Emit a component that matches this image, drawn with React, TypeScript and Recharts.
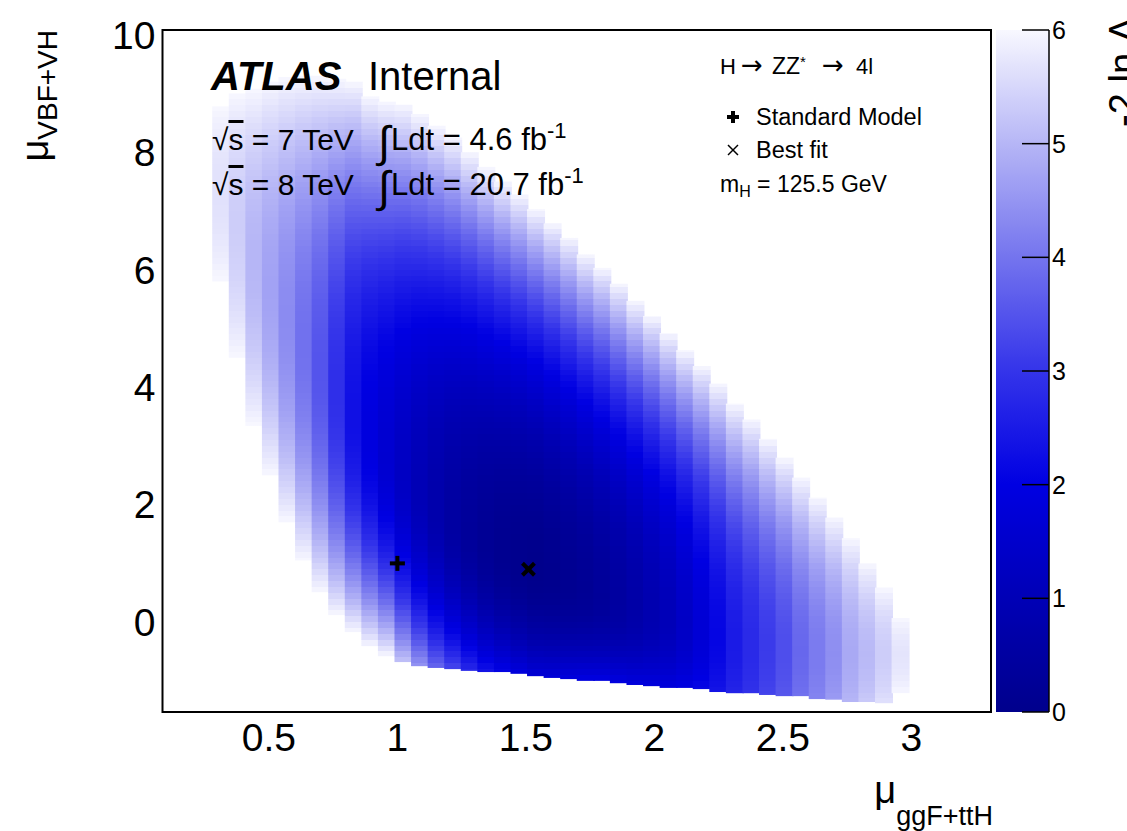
import { Bar, ComposedChart, ReferenceArea, Scatter, XAxis, YAxis } from "recharts"

const FONT = "'Liberation Sans', Arial, Helvetica, sans-serif"

// axis ranges (read from the frame) and ticks
const X_RANGE: [number, number] = [0.086, 3.31]
const Y_RANGE: [number, number] = [-1.53, 10.08]
const Z_RANGE: [number, number] = [0, 6]
const X_TICKS = [0.5, 1, 1.5, 2, 2.5, 3]
const Y_TICKS = [0, 2, 4, 6, 8, 10]
const Z_TICKS = [0, 1, 2, 3, 4, 5, 6]

// 50 bins in mu_ggF+ttH across X_RANGE, bins 3..44 are filled
const N_XBINS = 50
const FIRST_FILLED_BIN = 3
const Y_ROW = 0.1

// per filled column:
// top = where the column turns white (-2lnL = 6)
const COL_TOP = [
  8.78, 9.0, 9.08, 9.2, 9.28, 9.3, 9.3, 9.25, 9.2, 8.95, 8.86, 8.81, 8.65, 8.45,
  8.25, 8.0, 7.75, 7.5, 7.28, 7.03, 6.79, 6.54, 6.26, 6.03, 5.76, 5.47, 5.21,
  4.92, 4.63, 4.36, 4.06, 3.72, 3.45, 3.12, 2.8, 2.46, 2.12, 1.78, 1.43, 1.0,
  0.59, 0.07,
]
// bottom = lowest filled y (fade-out on the left, hard cut on the right)
const COL_BOTTOM = [
  5.8, 4.5, 3.34, 2.5, 1.7, 1.05, 0.51, 0.12, -0.17, -0.41, -0.58, -0.68, -0.75,
  -0.78, -0.8, -0.83, -0.85, -0.85, -0.88, -0.92, -0.95, -0.97, -1.0, -1.0,
  -1.04, -1.07, -1.09, -1.12, -1.12, -1.14, -1.19, -1.21, -1.21, -1.24, -1.26,
  -1.26, -1.31, -1.32, -1.36, -1.36, -1.38, -1.21,
]
// darkest value in the column and where it sits
const COL_MIN = [
  5.65, 5.35, 5.0, 4.7, 4.35, 3.95, 3.5, 2.9, 2.3, 1.9, 1.6, 1.3, 1.0, 0.75,
  0.52, 0.34, 0.2, 0.1, 0.04, 0.0, 0.05, 0.12, 0.2, 0.32, 0.48, 0.65, 0.85,
  1.05, 1.35, 1.7, 2.1, 2.5, 2.8, 3.1, 3.4, 3.8, 4.1, 4.4, 4.8, 5.05, 5.35, 5.7,
]
const COL_MIN_Y = [
  7.3, 6.8, 6.2, 5.7, 5.2, 4.75, 4.3, 3.9, 3.5, 3.15, 2.8, 2.5, 2.2, 1.95, 1.7,
  1.5, 1.3, 1.15, 1.0, 0.88, 0.76, 0.65, 0.55, 0.45, 0.36, 0.26, 0.15, 0.05,
  -0.05, -0.15, -0.25, -0.32, -0.38, -0.43, -0.47, -0.5, -0.52, -0.54, -0.55,
  -0.55, -0.55, -0.57,
]
// value in the lowest filled cell
const COL_BOTTOM_VALUE = [
  6, 6, 6, 6, 6, 6, 6, 6, 6, 6, 6, 5.2, 4.5, 3.8, 3.3, 2.8, 2.4, 2.1, 1.9, 1.75,
  1.8, 1.9, 2.0, 2.0, 1.95, 1.9, 1.9, 1.9, 2.0, 2.15, 2.4, 2.7, 2.95, 3.25, 3.55,
  3.95, 4.25, 4.6, 5.0, 5.3, 5.65, 6,
]

const SM_POINT = [{ x: 1.0, y: 1.0 }]
const BEST_FIT = [{ x: 1.51, y: 0.9 }]

// blue -> white palette, as on the colour bar
const PALETTE: { v: number; rgb: number[] }[] = [
  { v: 0, rgb: [0, 0, 140] },
  { v: 1, rgb: [0, 0, 182] },
  { v: 2, rgb: [0, 0, 226] },
  { v: 3, rgb: [52, 52, 234] },
  { v: 4, rgb: [116, 116, 238] },
  { v: 5, rgb: [182, 182, 246] },
  { v: 6, rgb: [248, 248, 255] },
]

function paletteColour(value: number) {
  const v = Math.max(0, Math.min(6, value))
  for (let i = 1; i < PALETTE.length; i++) {
    const a = PALETTE[i - 1]
    const b = PALETTE[i]
    if (v <= b.v) {
      const t = (v - a.v) / (b.v - a.v)
      const c = a.rgb.map((ch, k) => Math.round(ch + (b.rgb[k] - ch) * t))
      return `rgb(${c.join(",")})`
    }
  }
  return "rgb(248,248,255)"
}

function cellValue(c: number, y: number) {
  const yMin = COL_MIN_Y[c]
  const vMin = COL_MIN[c]
  if (y >= yMin) {
    const t = (y - yMin) / (COL_TOP[c] - yMin)
    return vMin + (6 - vMin) * t * t
  }
  const t = (yMin - y) / (yMin - COL_BOTTOM[c])
  return vMin + (COL_BOTTOM_VALUE[c] - vMin) * t * t
}

// hard-edged stops, one band per Y_ROW cell
function columnStops(c: number) {
  const hi = COL_TOP[c]
  const lo = COL_BOTTOM[c]
  const span = hi - lo
  const edges = [hi]
  let k = Math.floor(hi / Y_ROW - 1e-6)
  while (k * Y_ROW > lo + 1e-6) {
    edges.push(k * Y_ROW)
    k--
  }
  edges.push(lo)
  const stops: { offset: number; colour: string }[] = []
  for (let j = 0; j + 1 < edges.length; j++) {
    const colour = paletteColour(cellValue(c, (edges[j] + edges[j + 1]) / 2))
    stops.push({ offset: (hi - edges[j]) / span, colour })
    stops.push({ offset: (hi - edges[j + 1]) / span, colour })
  }
  return stops
}

const binRows = Array.from({ length: N_XBINS }, (_, bin) => {
  const c = bin - FIRST_FILLED_BIN
  const filled = c >= 0 && c < COL_TOP.length
  return {
    bin,
    col: filled ? c : -1,
    range: filled ? [COL_BOTTOM[c], COL_TOP[c]] : [Y_RANGE[0], Y_RANGE[0]],
  }
})

const colourBarRows = [{ name: "z", range: Z_RANGE }]

const ColumnShape = (props: any) => {
  const { x, y, width, height, payload } = props
  if (!payload || payload.col < 0 || !(height > 0)) return <g />
  return <rect x={x} y={y} width={width + 1} height={height} fill={`url(#col-${payload.bin})`} />
}

// colour bar body, with the axis ticks drawn inside it (ROOT style)
const ColourBarShape = (props: any) => {
  const { x, y, width, height } = props
  const span = Z_RANGE[1] - Z_RANGE[0]
  return (
    <g>
      <rect x={x} y={y} width={width} height={height} fill="url(#cbar)" />
      {Z_TICKS.map((z) => {
        const ty = y + (height * (Z_RANGE[1] - z)) / span
        return (
          <line key={z} x1={x + width * 0.49} x2={x + width} y1={ty} y2={ty} stroke="#000" strokeWidth={1.5} />
        )
      })}
    </g>
  )
}

const PlusShape = (props: any) => {
  const { cx, cy } = props
  return (
    <g fill="#000">
      <rect x={cx - 7.5} y={cy - 2} width={15} height={4} />
      <rect x={cx - 2} y={cy - 7.5} width={4} height={15} />
    </g>
  )
}

const CrossShape = (props: any) => {
  const { cx, cy } = props
  return (
    <g stroke="#000" strokeWidth={4}>
      <line x1={cx - 6} y1={cy - 6} x2={cx + 6} y2={cy + 6} />
      <line x1={cx - 6} y1={cy + 6} x2={cx + 6} y2={cy - 6} />
    </g>
  )
}

const tickStyle = { fontSize: 39, fill: "#000", fontFamily: FONT }

export default function App() {
  const cbarStops = Array.from({ length: 61 }, (_, i) => ({
    offset: i / 60,
    colour: paletteColour(6 - i / 10),
  }))

  return (
    <div style={{ position: "absolute", left: 0, top: 0, width: 1127, height: 831, background: "#fff" }}>
      <div style={{ position: "absolute", left: 0, top: 0 }}>
        <ComposedChart
          width={1127}
          height={831}
          data={binRows}
          margin={{ top: 30, right: 136, bottom: 59, left: 102.5 }}
          barCategoryGap={0}
          barGap={0}
        >
          <defs>
            {binRows
              .filter((r) => r.col >= 0)
              .map((r) => (
                <linearGradient key={r.bin} id={`col-${r.bin}`} x1="0" y1="0" x2="0" y2="1">
                  {columnStops(r.col).map((s, i) => (
                    <stop key={i} offset={s.offset} stopColor={s.colour} />
                  ))}
                </linearGradient>
              ))}
          </defs>
          <XAxis
            xAxisId="mu"
            dataKey="x"
            type="number"
            domain={X_RANGE}
            ticks={X_TICKS}
            allowDataOverflow
            height={60}
            tickLine={false}
            axisLine={false}
            tickSize={0}
            tickMargin={11}
            tick={tickStyle}
            interval={0}
          />
          <XAxis xAxisId="bin" dataKey="bin" type="category" hide height={0} />
          <YAxis
            type="number"
            domain={Y_RANGE}
            ticks={Y_TICKS}
            allowDataOverflow
            width={60}
            tickLine={false}
            axisLine={false}
            tickSize={0}
            tickMargin={7}
            tick={tickStyle}
            interval={0}
          />
          <Bar xAxisId="bin" dataKey="range" shape={ColumnShape} isAnimationActive={false} />
          <Scatter xAxisId="mu" data={SM_POINT} dataKey="y" shape={PlusShape} isAnimationActive={false} />
          <Scatter xAxisId="mu" data={BEST_FIT} dataKey="y" shape={CrossShape} isAnimationActive={false} />
          <ReferenceArea
            xAxisId="mu"
            x1={X_RANGE[0]}
            x2={X_RANGE[1]}
            y1={Y_RANGE[0]}
            y2={Y_RANGE[1]}
            fill="none"
            stroke="#000"
            strokeWidth={2}
          />
        </ComposedChart>
      </div>

      <div style={{ position: "absolute", left: 996, top: 0 }}>
        <ComposedChart
          width={131}
          height={831}
          data={colourBarRows}
          margin={{ top: 30, right: 18, bottom: 119, left: 0 }}
          barCategoryGap={0}
        >
          <defs>
            <linearGradient id="cbar" x1="0" y1="0" x2="0" y2="1">
              {cbarStops.map((s, i) => (
                <stop key={i} offset={s.offset} stopColor={s.colour} />
              ))}
            </linearGradient>
          </defs>
          <XAxis dataKey="name" type="category" hide />
          <YAxis
            orientation="right"
            type="number"
            domain={Z_RANGE}
            ticks={Z_TICKS}
            width={60}
            tickLine={false}
            tickSize={0}
            tickMargin={3}
            axisLine={{ stroke: "#000", strokeWidth: 1.5 }}
            tick={{ fontSize: 25, fill: "#000", fontFamily: FONT }}
            interval={0}
          />
          <Bar dataKey="range" shape={ColourBarShape} isAnimationActive={false} />
        </ComposedChart>
      </div>

      <svg
        width={1127}
        height={831}
        style={{ position: "absolute", left: 0, top: 0, pointerEvents: "none" }}
        fontFamily={FONT}
        fill="#000"
      >
        <text x={211} y={90} fontSize={40}>
          <tspan fontWeight="bold" fontStyle="italic">ATLAS</tspan>
          <tspan x={368}>Internal</tspan>
        </text>

        <text x={212} y={150} fontSize={30}>
          √<tspan style={{ textDecoration: "overline" }}>s</tspan> = 7 TeV
        </text>
        <text x={378} y={157} fontSize={44}>∫</text>
        <text x={391} y={150} fontSize={31}>
          Ldt = 4.6 fb<tspan fontSize={22} dy={-12}>-1</tspan>
        </text>

        <text x={212} y={195} fontSize={30}>
          √<tspan style={{ textDecoration: "overline" }}>s</tspan> = 8 TeV
        </text>
        <text x={378} y={202} fontSize={44}>∫</text>
        <text x={391} y={195} fontSize={31}>
          Ldt = 20.7 fb<tspan fontSize={22} dy={-12}>-1</tspan>
        </text>

        <text y={74} fontSize={22}>
          <tspan x={720}>H</tspan>
          <tspan x={741} fontFamily="'DejaVu Sans', sans-serif" fontSize={26}>→</tspan>
          <tspan x={772} fontSize={23}>ZZ</tspan>
          <tspan fontSize={15} dy={-7}>*</tspan>
          <tspan x={822} dy={7} fontFamily="'DejaVu Sans', sans-serif" fontSize={26}>→</tspan>
          <tspan x={856}>4l</tspan>
        </text>
        <g fill="#000">
          <rect x={727} y={115} width={12} height={4} />
          <rect x={731} y={111} width={4} height={12} />
        </g>
        <text x={756} y={125} fontSize={23.5}>Standard Model</text>
        <g stroke="#000" strokeWidth={1.5}>
          <line x1={728} y1={145} x2={738} y2={155} />
          <line x1={728} y1={155} x2={738} y2={145} />
        </g>
        <text x={756} y={158} fontSize={23.5}>Best fit</text>
        <text x={720} y={192} fontSize={23}>
          m<tspan fontSize={16} dy={5}>H</tspan>
          <tspan dy={-5}> = 125.5 GeV</tspan>
        </text>

        <text transform="translate(48,30) rotate(-90)" textAnchor="end" fontSize={38}>
          μ<tspan fontSize={28} dy={9}>VBF+VH</tspan>
        </text>
        <text x={993} y={803} textAnchor="end" fontSize={38}>
          μ<tspan fontSize={27} dy={22}>ggF+ttH</tspan>
        </text>
        <text transform="translate(1136,17) rotate(-90)" textAnchor="end" fontSize={38}>
          -2 ln Λ
        </text>
      </svg>
    </div>
  )
}
